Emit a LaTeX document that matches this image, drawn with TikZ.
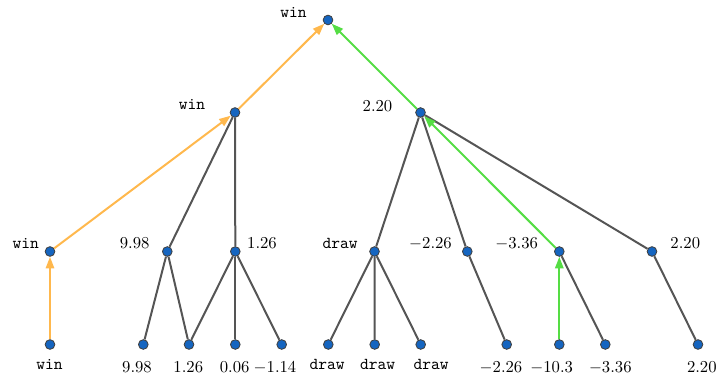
\documentclass[tikz,border=0pt]{standalone}
\usetikzlibrary{arrows.meta}
\definecolor{nodeblue}{HTML}{1565C0}
\definecolor{edgegray}{HTML}{555555}
\definecolor{orangepath}{HTML}{FFB84D}
\definecolor{greenpath}{HTML}{55DD44}
\begin{document}
\begin{tikzpicture}[x=0.6pt,y=-0.6pt,
  dot/.style={circle,draw=black!75,fill=nodeblue,inner sep=0pt,minimum size=5.8pt,line width=0.5pt},
  edge/.style={edgegray,line width=1.2pt},
  orangeedge/.style={orangepath,line width=1.2pt,-{Triangle[length=7pt,width=5pt]}},
  greenedge/.style={greenpath,line width=1.2pt,-{Triangle[length=7pt,width=5pt]}},
  lbl/.style={anchor=base,inner sep=0pt,font=\fontsize{10}{12}\selectfont},
  tlbl/.style={anchor=base,inner sep=0pt,font=\fontsize{10}{12}\selectfont\ttfamily}]
\useasboundingbox (0,0) rectangle (718,379);
% node positions
\coordinate (root) at (328,20);
\coordinate (A) at (235,112.5);
\coordinate (B) at (420.5,112.5);
\coordinate (L1) at (50,251.5);
\coordinate (L2) at (167.3,251.5);
\coordinate (L3) at (235.3,251.5);
\coordinate (R1) at (374.5,251.5);
\coordinate (R2) at (467.3,251.5);
\coordinate (R3) at (559.3,251.5);
\coordinate (R4) at (652,251.5);
\coordinate (a1) at (50,344.5);
\coordinate (a2) at (143.3,344.5);
\coordinate (a3) at (189,344.5);
\coordinate (a4) at (235.3,344.5);
\coordinate (a5) at (281.7,344.5);
\coordinate (b1) at (328.3,344.5);
\coordinate (b2) at (374.7,344.5);
\coordinate (b3) at (420.7,344.5);
\coordinate (b4) at (506.7,344.5);
\coordinate (b5) at (559.3,344.5);
\coordinate (b6) at (605.3,344.5);
\coordinate (b7) at (698,344.5);
% dots, named n<name>
\foreach \n in {root,A,B,L1,L2,L3,R1,R2,R3,R4,a1,a2,a3,a4,a5,b1,b2,b3,b4,b5,b6,b7}
  \node[dot] (n\n) at (\n) {};
% edges
\draw[edge] (nA) -- (nL2);
\draw[edge] (nA) -- (nL3);
\draw[edge] (nB) -- (nR1);
\draw[edge] (nB) -- (nR2);
\draw[edge] (nB) -- (nR4);
\draw[edge] (nL2) -- (na2);
\draw[edge] (nL2) -- (na3);
\draw[edge] (nL3) -- (na3);
\draw[edge] (nL3) -- (na4);
\draw[edge] (nL3) -- (na5);
\draw[edge] (nR1) -- (nb1);
\draw[edge] (nR1) -- (nb2);
\draw[edge] (nR1) -- (nb3);
\draw[edge] (nR2) -- (nb4);
\draw[edge] (nR3) -- (nb6);
\draw[edge] (nR4) -- (nb7);
\draw[orangeedge] (nA) -- (nroot);
\draw[orangeedge] (nL1) -- (nA);
\draw[orangeedge] (na1) -- (nL1);
\draw[greenedge] (nB) -- (nroot);
\draw[greenedge] (nR3) -- (nB);
\draw[greenedge] (nb5) -- (nR3);
% labels
\node[tlbl] (troot) at (293.5,17.3) {win};
\node[tlbl] (tA) at (192,110) {win};
\node[lbl] (tB) at (377.5,111.5) {2.20};
\node[tlbl] (tL1) at (25.7,248.5) {win};
\node[lbl] (tL2) at (134.7,248.5) {9.98};
\node[lbl] (tL3) at (262,248.5) {1.26};
\node[tlbl] (tR1) at (340,248.5) {draw};
\node[lbl] (tR2) at (430.5,248.5) {$-2.26$};
\node[lbl] (tR3) at (516.7,248.5) {$-3.36$};
\node[lbl] (tR4) at (685.3,248.5) {2.20};
\node[tlbl] (ta1) at (49.5,369.5) {win};
\node[lbl] (ta2) at (137,372.5) {9.98};
\node[lbl] (ta3) at (188.3,372.5) {1.26};
\node[lbl] (ta4) at (234.7,372.5) {0.06};
\node[lbl] (ta5) at (275,372.5) {$-1.14$};
\node[tlbl] (tb1) at (327,369.5) {draw};
\node[tlbl] (tb2) at (377.5,369.5) {draw};
\node[tlbl] (tb3) at (431,369.5) {draw};
\node[lbl] (tb4) at (501,372.5) {$-2.26$};
\node[lbl] (tb5) at (551.7,372.5) {$-10.3$};
\node[lbl] (tb6) at (610.3,372.5) {$-3.36$};
\node[lbl] (tb7) at (701.8,372.5) {2.20};
\end{tikzpicture}
\end{document}
